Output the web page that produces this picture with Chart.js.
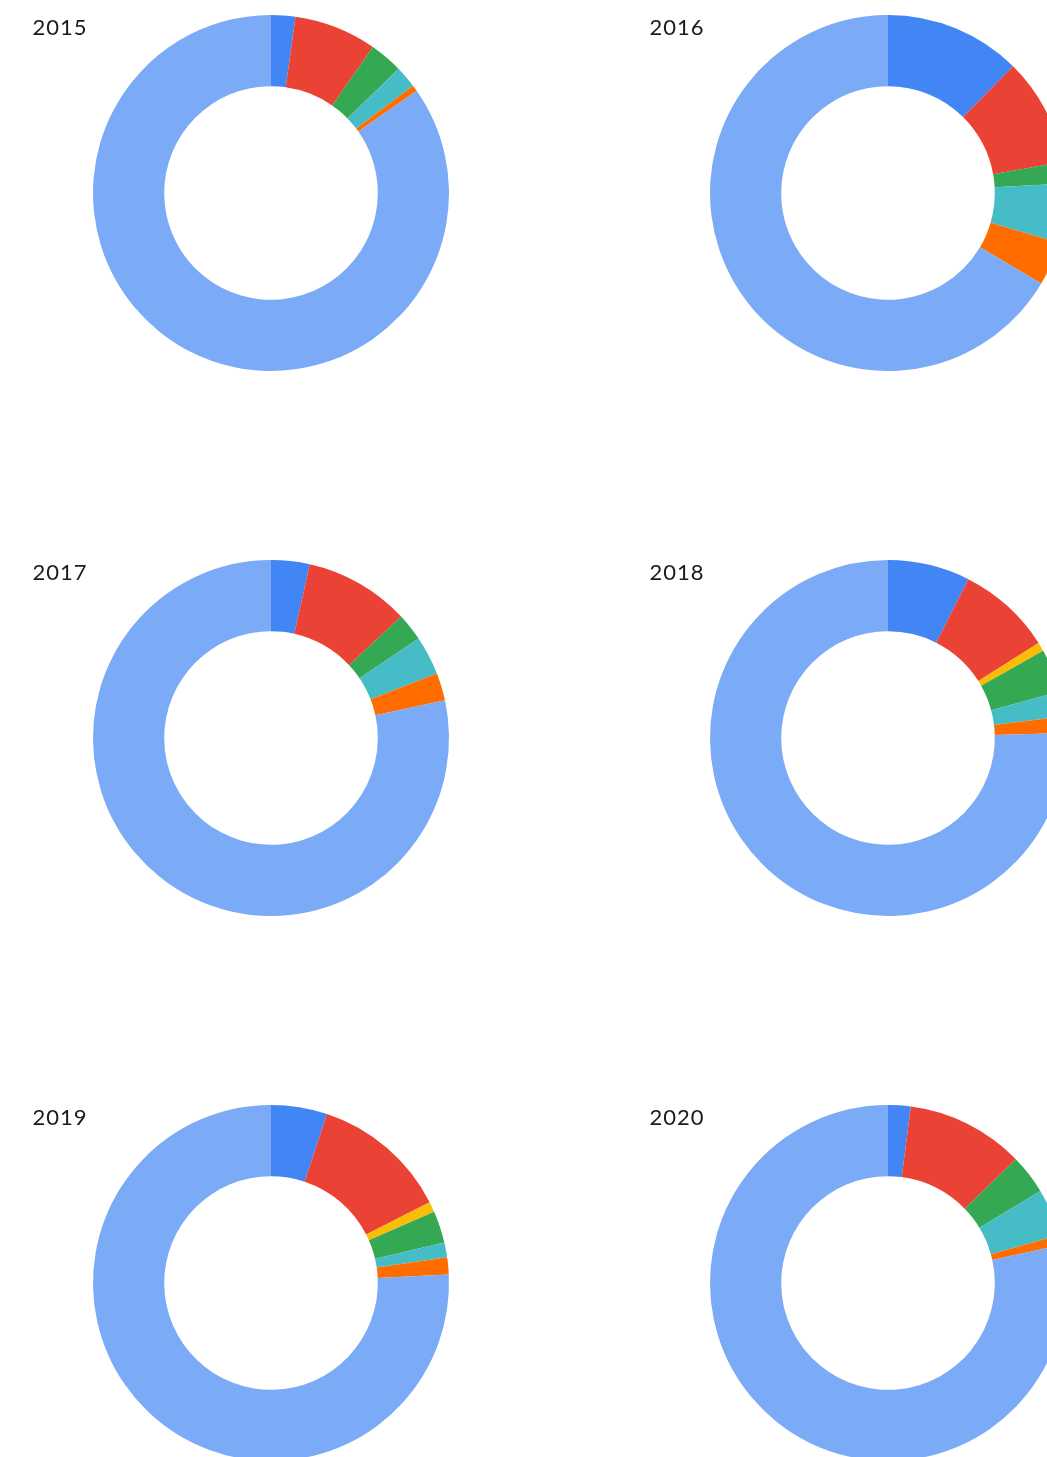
<!DOCTYPE html>
<html>
<head>
<meta charset="utf-8">
<script src="https://cdn.jsdelivr.net/npm/chart.js@4"></script>
<style>
  body { margin: 0; background: #fff; overflow: hidden; }
  #wrap { position: relative; width: 1047px; height: 1457px; overflow: hidden; }
  .box { position: absolute; width: 542px; height: 386px; }
  .title { position: absolute; width: 120px; text-align: center; font-family: Lato, 'Open Sans', sans-serif; font-size: 22px; letter-spacing: 1px; color: #1a1a1a; line-height: 24px; }
</style>
</head>
<body>
<div id="wrap"></div>
<script>
  const years = ['2015', '2016', '2017', '2018', '2019', '2020']
  const categories = ['Cat 1', 'Cat 2', 'Cat 3', 'Cat 4', 'Cat 5', 'Cat 6', 'Other']
  const colors = ['#4285F4', '#EA4335', '#FBBC04', '#34A853', '#46BDC6', '#FF6D01', '#7BAAF7']

  // shares per year (%), same order as categories
  const v2015 = [2.2, 7.5, 0, 3.0, 2.0, 0.55, 84.75]
  const v2016 = [12.4, 9.8, 0, 1.95, 5.35, 4.0, 66.5]
  const v2017 = [3.5, 9.55, 0, 2.5, 3.55, 2.5, 78.4]
  const v2018 = [7.45, 8.6, 0.8, 3.95, 2.25, 1.5, 75.45]
  const v2019 = [5.1, 12.4, 0.95, 2.9, 1.35, 1.55, 75.75]
  const v2020 = [2.05, 10.7, 0, 3.6, 4.3, 0.9, 78.45]
  const values = [v2015, v2016, v2017, v2018, v2019, v2020]

  const wrap = document.getElementById('wrap')

  years.forEach((year, i) => {
    const col = i % 2
    const row = Math.floor(i / 2)
    const left = col * 617
    const top = row * 545

    const box = document.createElement('div')
    box.className = 'box'
    box.style.left = left + 'px'
    box.style.top = top + 'px'
    const canvas = document.createElement('canvas')
    box.appendChild(canvas)
    wrap.appendChild(box)

    const title = document.createElement('div')
    title.className = 'title'
    title.textContent = year
    title.style.left = left + 'px'
    title.style.top = (top + 15) + 'px'
    wrap.appendChild(title)

    new Chart(canvas.getContext('2d'), {
      type: 'doughnut',
      data: {
        labels: categories,
        datasets: [{
          data: values[i],
          backgroundColor: colors,
          borderWidth: 0,
          hoverOffset: 0
        }]
      },
      options: {
        responsive: true,
        maintainAspectRatio: false,
        animation: false,
        cutout: '60%',
        layout: { padding: 15 },
        plugins: {
          legend: { display: false },
          tooltip: { enabled: false }
        }
      }
    })
  })
</script>
</body>
</html>
